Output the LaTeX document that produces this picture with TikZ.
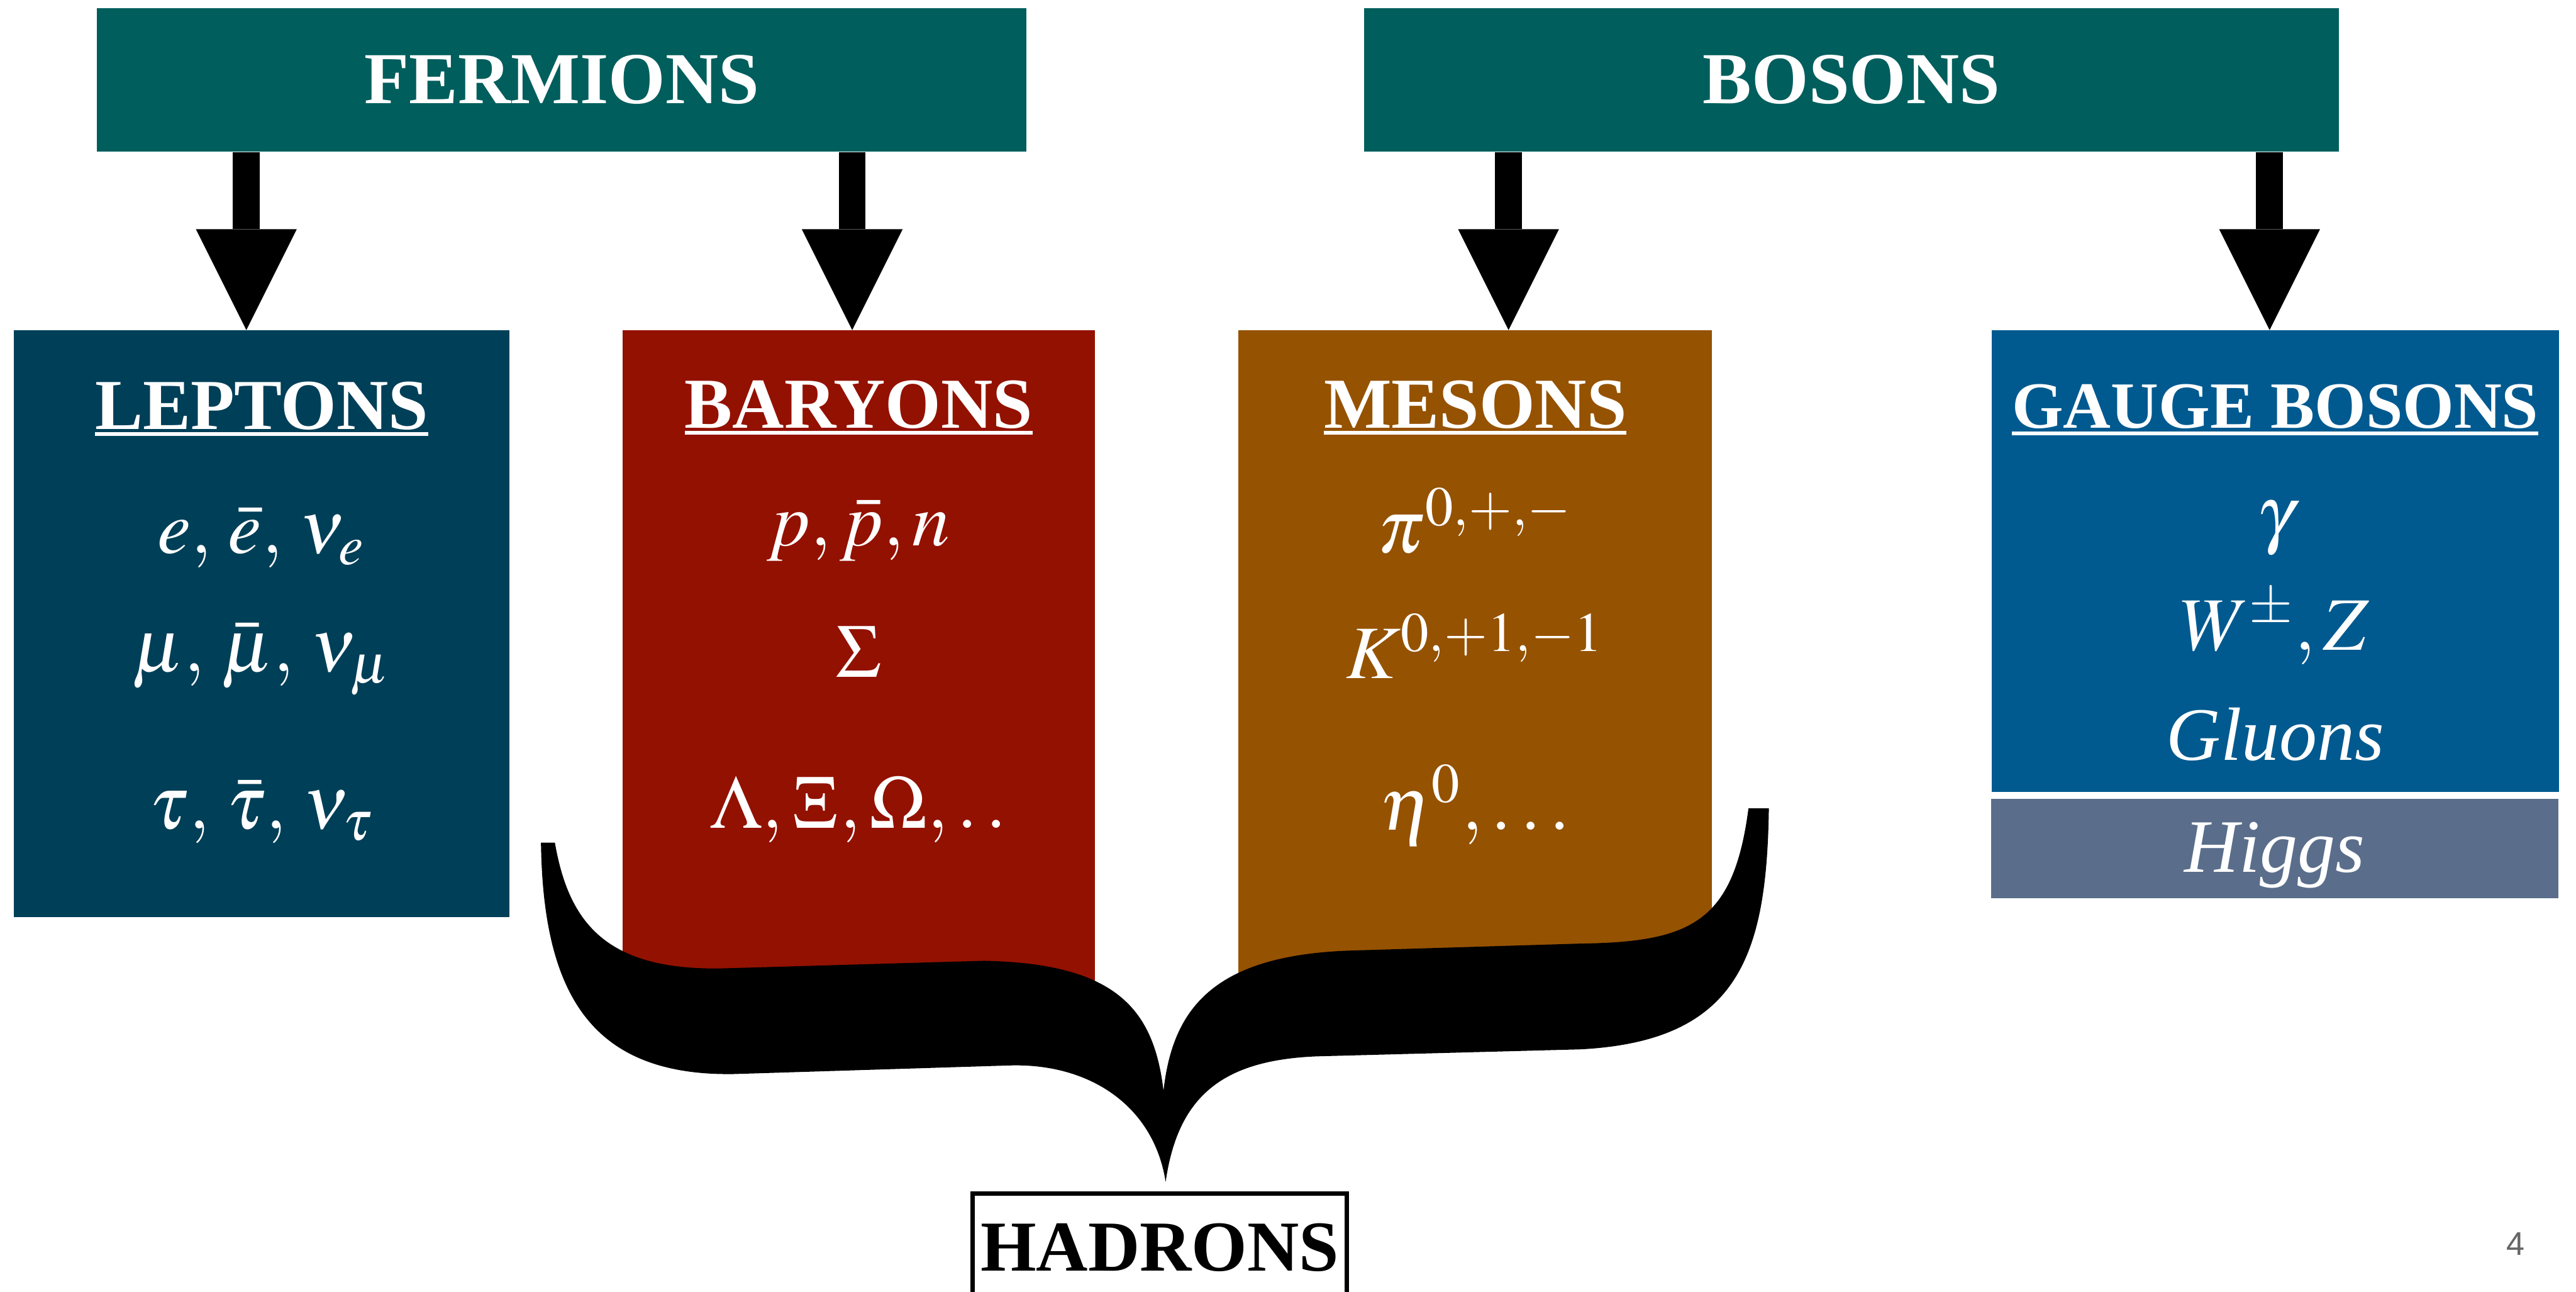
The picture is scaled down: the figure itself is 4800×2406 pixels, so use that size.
\documentclass[tikz,border=0pt]{standalone}
\usepackage{mathptmx}
\usepackage[no-math]{fontspec}
\setmainfont{Liberation Serif}
\newfontfamily\pagefont{Liberation Sans}
\usepackage{xcolor}
\usepackage{tikz}
\usetikzlibrary{positioning,arrows.meta,calc}

\definecolor{topteal}{HTML}{005E5D}
\definecolor{leptonblue}{HTML}{003F58}
\definecolor{baryonred}{HTML}{931100}
\definecolor{mesonbrown}{HTML}{955200}
\definecolor{gaugeblue}{HTML}{005A8F}
\definecolor{higgsgrey}{HTML}{5A6E8B}

\newcommand{\ulword}[1]{\setbox0\hbox{#1}\rlap{\rule[-1.8pt]{\wd0}{1pt}}\box0}

\begin{document}
\begin{tikzpicture}[
  x=0.05mm, y=-0.05mm,
  head/.style={fill=topteal, text=white, inner sep=0pt, minimum height=13.35mm, font=\fontsize{19.4}{23}\selectfont\bfseries},
  panel/.style={inner sep=0pt, outer sep=0pt},
  ttl/.style={anchor=base, text=white, inner sep=0pt, font=\fontsize{19}{23}\selectfont\bfseries},
  entry/.style={anchor=base, text=white, inner sep=0pt, font=\fontsize{20}{24}\selectfont},
  arr/.style={line width=2.5mm, -{Triangle[width=9.4mm, length=9.4mm, line width=0pt]}}]
\useasboundingbox (0,0) rectangle (4800,2406);
\clip (0,0) rectangle (4800,2406);

\node[head, minimum width=86.6mm] (fer) at (1047,148.5) {FERMIONS};
\node[head, minimum width=90.8mm] (bos) at (3450,148.5) {BOSONS};

\node[panel, fill=leptonblue, minimum width=46.15mm, minimum height=54.65mm] (lep) at (487.5,1161.5) {};
\node[panel, fill=baryonred, minimum width=44mm, minimum height=61.5mm] (bar) at (1600,1230) {};
\node[panel, fill=mesonbrown, minimum width=44.1mm, minimum height=61.5mm] (mes) at (2749,1230) {};
\node[panel, fill=gaugeblue, minimum width=52.85mm, minimum height=43mm] (gau) at (4239.5,1045) {};
\node[panel, fill=higgsgrey, minimum width=52.85mm, minimum height=9.25mm] (hig) at (4238.5,1580.5) {};

\draw[arr] (459,0 |- fer.south) -- (459,0 |- lep.north);
\draw[arr] (1588,0 |- fer.south) -- (1588,0 |- bar.north);
\draw[arr] (2811,0 |- bos.south) -- (2811,0 |- mes.north);
\draw[arr] (4229,0 |- bos.south) -- (4229,0 |- gau.north);

\node[ttl] (lepT) at (lep.center |- 0,800) {\ulword{LEPTONS}};
\node[entry] (lep1) at (lep.center |- 0,1031) {$e,\, \bar{e},\, \nu_{e}$};
\node[entry] (lep2) at (lep.center |- 0,1251) {$\mu,\, \bar{\mu},\, \nu_{\mu}$};
\node[entry] (lep3) at (lep.center |- 0,1544) {$\tau,\, \bar{\tau},\, \nu_{\tau}$};

\node[ttl] (barT) at (bar.center |- 0,797) {\ulword{BARYONS}};
\node[entry] (bar1) at (bar.center |- 0,1017) {$p, \bar{p}, n$};
\node[entry] (bar2) at (bar.center |- 0,1262) {$\Sigma$};
\node[entry] (bar3) at (bar.center |- 0,1543) {$\Lambda, \Xi, \Omega, .\,.$};

\node[ttl] (mesT) at (mes.center |- 0,797) {\ulword{MESONS}};
\node[entry] (mes1) at (mes.center |- 0,1030) {$\pi^{0,+,-}$};
\node[entry] (mes2) at (mes.center |- 0,1264) {$K^{0,+1,-1}$};
\node[entry] (mes3) at (mes.center |- 0,1546) {$\eta^{0}, \ldots$};

\node[ttl, font=\fontsize{17.5}{21}\selectfont\bfseries] (gauT) at (gau.center |- 0,798) {\ulword{GAUGE BOSONS}};
\node[entry] (gau1) at (gau.center |- 0,1004) {$\gamma$};
\node[entry] (gau2) at (gau.center |- 0,1211) {$W^{\pm}, Z$};
\node[entry] (gau3) at (gau.center |- 0,1416) {\textit{Gluons}};
\node[entry] (hig1) at (hig.center |- 0,1625) {\textit{Higgs}};

\fill (1008,1570) .. controls (1012,1850) and (1100,2005) .. (1367,2001)
  -- (1880,1985) .. controls (2030,1980) and (2150,2060) .. (2172,2202)
  .. controls (2195,2040) and (2280,1975) .. (2454,1968)
  -- (2944,1955) .. controls (3240,1940) and (3292,1780) .. (3296,1506)
  -- (3258,1506) .. controls (3230,1720) and (3150,1755) .. (2944,1758)
  -- (2515,1771) .. controls (2260,1780) and (2185,1880) .. (2168,2032)
  .. controls (2150,1880) and (2080,1795) .. (1834,1790)
  -- (1352,1804) .. controls (1130,1810) and (1060,1720) .. (1034,1570) -- cycle;

\node[draw, line width=0.4mm, anchor=north, inner sep=0pt, minimum width=34.9mm, text height=7.2mm, text depth=8mm, font=\fontsize{19}{23}\selectfont\bfseries] (had) at (2161,2220) {HADRONS};

\node[anchor=base, text=black!60, inner sep=0pt, font=\pagefont\fontsize{8.7}{10}\selectfont] (pg) at (4688,2338) {4};
\end{tikzpicture}
\end{document}
